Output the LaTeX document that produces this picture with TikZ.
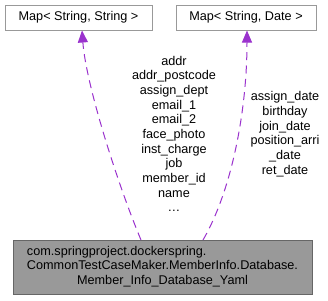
\documentclass[tikz,border=0pt]{standalone}
\usepackage{fontspec}
\setmainfont{Liberation Sans}
\definecolor{edgepurple}{RGB}{154,50,205}
\definecolor{boxline}{RGB}{153,153,153}
\definecolor{classfill}{RGB}{153,153,153}
\definecolor{classline}{RGB}{102,102,102}
\usetikzlibrary{arrows.meta,positioning,calc}

\begin{document}
\begin{tikzpicture}[x=0.75pt,y=-0.75pt,
    every node/.style={font=\fontsize{9.5}{11}\selectfont, text=black},
    tmplbox/.style={draw=boxline, line width=0.75pt, fill=white, minimum height=25*0.75pt, inner sep=0pt},
    usage/.style={draw=edgepurple, line width=0.75pt, dashed, dash pattern=on 6pt off 4pt,
      -{Triangle[length=9pt,width=7.5pt]}}]
        \useasboundingbox (0,0) rectangle (328,300);
        % template instances along the top
        \node[tmplbox, minimum width=147*0.75pt] (mapss) at (78.5,17.5) {Map< String, String >};
        \node[tmplbox, minimum width=140*0.75pt] (mapsd) at (246,17.5) {Map< String, Date >};
        % the class itself
        \node[draw=classline, fill=classfill, line width=0.75pt, minimum width=299*0.75pt, minimum height=54*0.75pt, inner sep=0pt]
          (yaml) at (162.5,267) {\begin{tabular}{@{}l@{}}
            com.springproject.dockerspring.\\
            CommonTestCaseMaker.MemberInfo.Database.\\
            \multicolumn{1}{@{}c@{}}{Member\_Info\_Database\_Yaml}
          \end{tabular}};
        % member lists
        \node[align=center, inner sep=0pt] (ssfields) at (174,134)
          {addr\\addr\_postcode\\assign\_dept\\email\_1\\email\_2\\face\_photo\\inst\_charge\\job\\member\_id\\name\\\dots};
        \node[align=center, inner sep=0pt] (sdfields) at (285,134)
          {assign\_date\\birthday\\join\_date\\position\_arri\\\_date\\ret\_date};
        \coordinate (ssfoot) at (141,240);
        \coordinate (sdfoot) at (203,240);
        \draw[usage] (ssfoot) .. controls (118,185) and (86,85) .. ($(mapss.south)+(3.5,0)$);
        \draw[usage] (sdfoot) .. controls (232,190) and (247,110) .. ($(mapsd.south)+(1,0)$);
      \end{tikzpicture}
\end{document}
